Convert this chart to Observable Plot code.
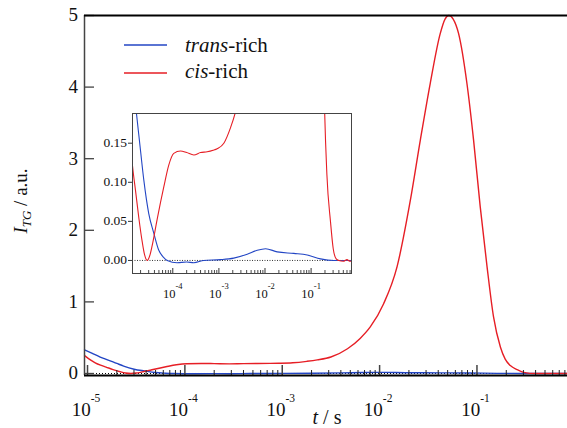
<!DOCTYPE html>
<html><head><meta charset="utf-8">
<script src="https://cdn.jsdelivr.net/npm/d3@7"></script>
<script src="https://cdn.jsdelivr.net/npm/@observablehq/plot@0.6"></script>
<style>
html,body{margin:0;padding:0;background:#fff;}
#wrap{position:relative;width:567px;height:428px;overflow:hidden;background:#fff;color:#111;}
#wrap svg{position:absolute;}
.lbl{position:absolute;line-height:1;white-space:nowrap;}
.sh{position:relative;}
</style></head><body><div id="wrap"></div>
<script>
// ---- data (t in seconds, I_TG in a.u.) ----
const redT = [9.33e-6, 1.07e-5, 1.2e-5, 1.36e-5, 1.55e-5, 1.83e-5, 2.17e-5, 2.45e-5, 2.79e-5, 3.16e-5, 3.57e-5, 4.59e-5, 6.38e-5, 8.18e-5, 1.05e-4, 1.47e-4, 2.0e-4, 2.86e-4, 4.0e-4, 5.57e-4, 7.5e-4, 9.18e-4, 1.28e-3, 1.79e-3, 2.29e-3, 3.16e-3, 4.68e-3, 6.31e-3, 8.02e-3, 1.1e-2, 1.51e-2, 2.07e-2, 2.62e-2, 3.31e-2, 4.2e-2, 4.7e-2, 5.15e-2, 5.7e-2, 6.47e-2, 7.89e-2, 9.23e-2, 0.108, 0.127, 0.148, 0.174, 0.195, 0.22, 0.263, 0.302, 0.35, 0.399, 0.5, 0.6, 0.7, 0.851];
const redI = [0.25, 0.19, 0.15, 0.117, 0.09, 0.055, 0.024, 0.007, 0.0, 0.006, 0.019, 0.053, 0.094, 0.122, 0.137, 0.140, 0.138, 0.135, 0.138, 0.139, 0.141, 0.143, 0.150, 0.17, 0.19, 0.23, 0.345, 0.49, 0.65, 0.975, 1.49, 2.42, 3.26, 4.05, 4.75, 4.95, 5.0, 4.95, 4.75, 4.05, 3.26, 2.33, 1.49, 0.79, 0.37, 0.2, 0.11, 0.05, 0.015, 0.002, 0.0, -0.001, 0.001, -0.001, 0.0];
const blueT = [9.33e-6, 1.12e-5, 1.35e-5, 1.63e-5, 2.0e-5, 2.35e-5, 3.01e-5, 3.87e-5, 4.97e-5, 6.31e-5, 7.57e-5, 1.24e-4, 2.0e-4, 2.86e-4, 4.7e-4, 1.08e-3, 2.1e-3, 4.11e-3, 6.78e-3, 1.03e-2, 1.84e-2, 4.22e-2, 8.22e-2, 0.16, 0.311, 0.5, 0.851];
const blueI = [0.33, 0.28, 0.23, 0.188, 0.14, 0.103, 0.06, 0.035, 0.013, 0.004, 0.0, -0.003, -0.002, -0.003, 0.0, 0.001, 0.003, 0.008, 0.013, 0.015, 0.011, 0.009, 0.007, 0.002, 0.0, 0.0, 0.0];

const seriesNames = [["trans", "-rich"], ["cis", "-rich"]];
const xMajor = [1e-5, 1e-4, 1e-3, 1e-2, 1e-1];
const xMajorExp = ["-5", "-4", "-3", "-2", "-1"];
const yMajor = [0, 1, 2, 3, 4, 5];
const insetXMajor = [1e-4, 1e-3, 1e-2, 1e-1];
const insetXExp = ["-4", "-3", "-2", "-1"];
const insetYTicks = [0, 0.05, 0.10, 0.15];

const blueColor = "#2346c4";
const redColor = "#e61e25";
const FONT = '"Liberation Serif", "Times New Roman", Tinos, Times';

const red = redT.map((t, i) => ({t, I: redI[i]}));
const blue = blueT.map((t, i) => ({t, I: blueI[i]}));

function minorTicks(dom) {
  const out = [];
  for (let e = -6; e <= 0; e++) for (let k = 2; k <= 9; k++) {
    const v = k * Math.pow(10, e);
    if (v > dom[0] && v < dom[1]) out.push(v);
  }
  return out;
}
function scaleFn(s) {
  if (s && typeof s.apply === "function") return v => s.apply(v);
  const sc = s.type === "log" ? d3.scaleLog() : d3.scaleLinear();
  return sc.domain(s.domain).range(s.range);
}
const wrap = d3.select("#wrap");
function setFont(sel) { sel.node().style.setProperty("font-family", FONT, "important"); return sel; }
// HTML text: x, baseline y, font size, anchor
function addText(parts, x, baseline, fs, anchor) {
  const d = wrap.append("div").attr("class", "lbl")
    .style("font-size", fs + "px")
    .style("left", x + "px")
    .style("top", (baseline - 0.8375 * fs) + "px")
    .style("transform", anchor === "middle" ? "translateX(-50%)" : anchor === "end" ? "translateX(-100%)" : "none");
  setFont(d);
  parts.forEach(p => {
    const s = d.append("span").text(p.text);
    setFont(s);
    if (p.italic) s.style("font-style", "italic");
    if (p.size) s.style("font-size", p.size + "px");
    if (p.shift) s.attr("class", "sh").style("top", p.shift + "px");
  });
  return d;
}

// ---- main chart ----
const W = 567, H = 428, mL = 84, mR = 0, mT = 15, mB = 53;
const fw = W - mL - mR, fh = H - mT - mB;
const xDom = [9.31e-6, 0.851], yDom = [-0.028, 5.0];

const main = Plot.plot({
  width: W, height: H, marginLeft: mL, marginRight: mR, marginTop: mT, marginBottom: mB,
  style: {background: "transparent", overflow: "visible"},
  x: {type: "log", domain: xDom, axis: null},
  y: {domain: yDom, axis: null},
  marks: [
    Plot.ruleY([0], {stroke: "#000", strokeWidth: 1, strokeDasharray: "1,2"}),
    Plot.line(blue, {x: "t", y: "I", stroke: blueColor, strokeWidth: 1.4, curve: "monotone-x"}),
    Plot.line(red, {x: "t", y: "I", stroke: redColor, strokeWidth: 1.4, curve: "monotone-x"}),
    Plot.tickX(minorTicks(xDom), {x: d => d, insetTop: fh - 5, stroke: "#222", strokeWidth: 1}),
    Plot.tickX(xMajor, {x: d => d, insetTop: fh - 10, stroke: "#444", strokeWidth: 1.5}),
    Plot.tickY(yMajor, {y: d => d, insetRight: fw - 10, stroke: "#444", strokeWidth: 1.3}),
    Plot.ruleX([xDom[0]], {stroke: "#444", strokeWidth: 1.5}),
    Plot.ruleY([yDom[1]], {stroke: "#000", strokeWidth: 1.8}),
    Plot.ruleY([yDom[0]], {stroke: "#000", strokeWidth: 2})
  ]
});
main.style.left = "0px"; main.style.top = "0px";
wrap.node().appendChild(main);
const sx = scaleFn(main.scale("x")), sy = scaleFn(main.scale("y"));

yMajor.forEach(v => addText([{text: String(v)}], mL - 6, sy(v) + 0.33 * 19, 19, "end"));
xMajor.forEach((v, i) => addText([{text: "10"}, {text: xMajorExp[i], size: 11.5, shift: -14}], sx(v) - 1, 416, 19, "middle"));

// ---- inset ----
const iL = 90, iT = 100;
const iW = 264, iH = 205, imL = 42, imR = 3, imT = 13, imB = 32;
const ifw = iW - imL - imR, ifh = iH - imT - imB;
const iDomX = [1.337e-5, 0.752], iDomY = [-0.0167, 0.188];

const inset = Plot.plot({
  width: iW, height: iH, marginLeft: imL, marginRight: imR, marginTop: imT, marginBottom: imB,
  style: {background: "transparent", overflow: "visible", color: "#111"},
  x: {type: "log", domain: iDomX, axis: null},
  y: {domain: iDomY, axis: null},
  marks: [
    Plot.frame({fill: "white", stroke: "none"}),
    Plot.ruleY([0], {stroke: "#000", strokeWidth: 0.8, strokeDasharray: "1,1.5"}),
    Plot.line(blue, {x: "t", y: "I", stroke: blueColor, strokeWidth: 1.1, curve: "monotone-x", clip: true}),
    Plot.line(red, {x: "t", y: "I", stroke: redColor, strokeWidth: 1.1, curve: "monotone-x", clip: true}),
    Plot.tickX(minorTicks(iDomX), {x: d => d, insetTop: ifh - 3, stroke: "#333", strokeWidth: 0.9}),
    Plot.tickX(insetXMajor, {x: d => d, insetTop: ifh - 5, stroke: "#333", strokeWidth: 1}),
    Plot.tickY(insetYTicks, {y: d => d, insetLeft: -4, insetRight: ifw, stroke: "#333", strokeWidth: 1}),
    Plot.frame({stroke: "#444", strokeWidth: 1})
  ]
});
inset.style.left = iL + "px"; inset.style.top = iT + "px";
wrap.node().appendChild(inset);
const isx = scaleFn(inset.scale("x")), isy = scaleFn(inset.scale("y"));

insetYTicks.forEach(v => addText([{text: d3.format(".2f")(v)}], iL + imL - 5, iT + isy(v) + 0.33 * 13.5, 13.5, "end"));
insetXMajor.forEach((v, i) => addText([{text: "10"}, {text: insetXExp[i], size: 8.5, shift: -8.5}], iL + isx(v) + 0.5, 298, 12.5, "middle"));

// ---- legend and axis titles ----
const ov = wrap.append("svg")
  .attr("width", W).attr("height", H)
  .style("left", "0px").style("top", "0px")
  .style("pointer-events", "none");

const legendColors = [blueColor, redColor];
const legendY = [45, 73];
const legendBase = [53, 79];
seriesNames.forEach((nm, i) => {
  ov.append("line").attr("x1", 124).attr("x2", 167).attr("y1", legendY[i]).attr("y2", legendY[i])
    .attr("stroke", legendColors[i]).attr("stroke-width", 1.6);
  addText([{text: nm[0], italic: true}, {text: nm[1]}], 185, legendBase[i], 21, "start");
});

addText([{text: "t", italic: true}, {text: " / s"}], 327, 424, 20, "middle");

const yl = addText([{text: "I", italic: true}, {text: "TG", italic: true, size: 13, shift: 4}, {text: " / a.u."}], 19.6, 201, 19, "start");
yl.style("top", "201px").style("transform", "translate(-50%,-50%) rotate(-90deg)");
</script></body></html>
